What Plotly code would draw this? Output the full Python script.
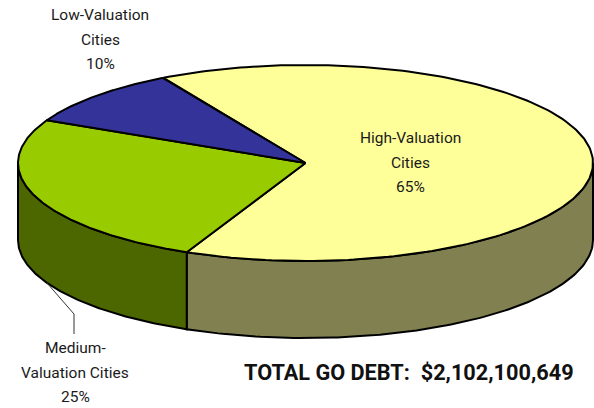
import numpy as np
import plotly.graph_objects as go

# ---- data ----
categories = ["High-Valuation Cities", "Medium-Valuation Cities", "Low-Valuation Cities"]
shares = [65.0, 25.4, 9.6]          # percent of total GO debt
label_lines = [["High-Valuation", "Cities"], ["Medium-", "Valuation Cities"], ["Low-Valuation", "Cities"]]
total_debt = 2102100649

# ---- styling ----
top_colors = ["#FFFF99", "#99CC00", "#333399"]
side_colors = ["#808050", "#4C6600", "#1F1F66"]
W, H = 594, 408
cx, cy, rx, ry, depth = 305.5, 163, 287.5, 98, 77
start_deg = 119.6  # slices run clockwise from here
FONT = "Roboto, Liberation Sans, Arial, sans-serif"

def pt(t_deg, dz=0.0):
    t = np.radians(t_deg)
    return cx + rx * np.cos(t), cy - ry * np.sin(t) + dz

fig = go.Figure()

# slice angle ranges (clockwise => decreasing angle)
ranges = []
a = start_deg
for s in shares:
    span = s / sum(shares) * 360.0
    ranges.append((a - span, a))
    a -= span

# side walls (front half only)
for (lo, hi), col in zip(ranges, side_colors):
    for f_lo, f_hi in [(-180, 0), (180, 360), (540, 720), (-540, -360)]:
        l, h = max(lo, f_lo), min(hi, f_hi)
        if h - l <= 0:
            continue
        ts = np.linspace(l, h, 120)
        xt, yt = pt(ts)
        xb, yb = pt(ts[::-1], depth)
        xs = np.concatenate([xt, xb, xt[:1]])
        ys = np.concatenate([yt, yb, yt[:1]])
        fig.add_trace(go.Scatter(x=xs, y=ys, mode="lines", fill="toself", fillcolor=col,
                                 line=dict(color="black", width=2), hoverinfo="skip", showlegend=False))

# top faces
for (lo, hi), col, name in zip(ranges, top_colors, categories):
    ts = np.linspace(lo, hi, 200)
    xa, ya = pt(ts)
    xs = np.concatenate([[cx], xa, [cx]])
    ys = np.concatenate([[cy], ya, [cy]])
    fig.add_trace(go.Scatter(x=xs, y=ys, mode="lines", fill="toself", fillcolor=col, name=name,
                             line=dict(color="black", width=2), hoverinfo="skip", showlegend=False))

# labels (one annotation per line for exact line spacing)
pcts = [round(s) for s in shares]
label_pos = [(410, 138), (75, 348), (100, 15)]
line_gap = 24.5
for lines, p, (lx, ly) in zip(label_lines, pcts, label_pos):
    for i, txt in enumerate(lines + [f"{p}%"]):
        fig.add_annotation(x=lx, y=ly + i * line_gap, xref="x", yref="y", showarrow=False,
                           text=txt, font=dict(family=FONT, size=15.5, color="#1a1a1a"))

# leader line for medium label
fig.add_shape(type="path", path="M 47 283 L 74 314 L 74 334", xref="x", yref="y",
              line=dict(color="#333333", width=1))

fig.add_annotation(x=409, y=372, xref="x", yref="y", showarrow=False,
                   text=f"<b>TOTAL GO DEBT:  ${total_debt:,}</b>",
                   font=dict(family=FONT, size=21.7, color="#111111"))

fig.update_layout(width=W, height=H, margin=dict(l=0, r=0, t=0, b=0),
                  paper_bgcolor="white", plot_bgcolor="white",
                  xaxis=dict(range=[0, W], visible=False, fixedrange=True),
                  yaxis=dict(range=[H, 0], visible=False, fixedrange=True))
fig.write_html("out.html", config={"displayModeBar": False},
               post_script="document.body.style.margin='0';document.body.style.overflow='hidden';")
